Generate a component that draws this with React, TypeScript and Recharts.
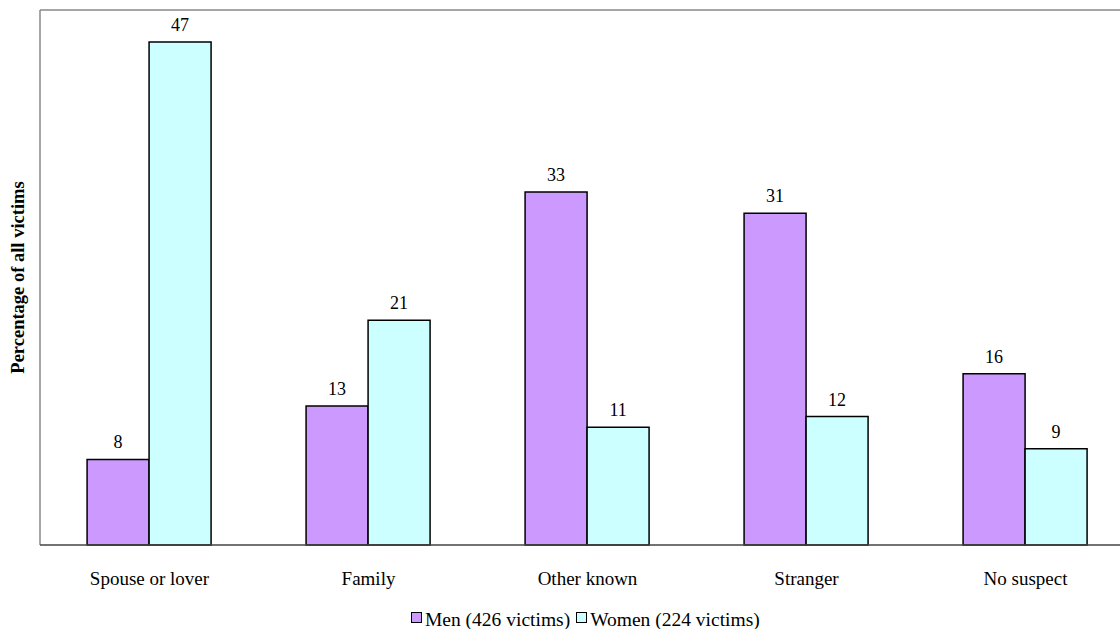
import { Bar, BarChart, LabelList, ReferenceLine, XAxis, YAxis } from "recharts";

const categories = ["Spouse or lover", "Family", "Other known", "Stranger", "No suspect"];
const men = [8, 13, 33, 31, 16];
const women = [47, 21, 11, 12, 9];

const MEN_NAME = "Men (426 victims)";
const WOMEN_NAME = "Women (224 victims)";

const data = categories.map((name, i) => ({ name, men: men[i], women: women[i] }));

const FONT = "'Liberation Serif', 'Times New Roman', serif";
const MEN_COLOR = "#CC99FF";
const WOMEN_COLOR = "#CCFFFF";

function LegendBox({ color, label }: { color: string; label: string }) {
  return (
    <span style={{ display: "inline-flex", alignItems: "center", marginRight: 6 }}>
      <span
        style={{
          display: "inline-block",
          width: 9,
          height: 9,
          background: color,
          border: "1.5px solid #000",
          marginRight: 3,
          marginTop: -5,
        }}
      />
      <span>{label}</span>
    </span>
  );
}

export default function App() {
  // the plot runs past the right edge of the picture, so the svg is wider and clipped
  return (
    <div style={{ position: "relative", width: 1120, height: 629, overflow: "hidden", fontFamily: FONT }}>
      <style>{"body{margin:0}"}</style>
      <BarChart
        width={1135}
        height={629}
        data={data}
        margin={{ top: 10, right: 0, left: 0, bottom: 54 }}
        barCategoryGap="21.5%"
        barGap={0}
      >
        <YAxis
          width={40}
          domain={[0, 50]}
          tick={false}
          tickLine={false}
          axisLine={{ stroke: "#888", strokeWidth: 1.5 }}
          label={{
            value: "Percentage of all victims",
            angle: -90,
            position: "insideLeft",
            dx: 12,
            style: { fontFamily: FONT, fontSize: 18.5, fontWeight: "bold", fill: "#000", textAnchor: "middle" },
          }}
        />
        <XAxis
          dataKey="name"
          tickLine={false}
          axisLine={{ stroke: "#444", strokeWidth: 1.5 }}
          tickMargin={21}
          tick={{ fill: "#000", fontSize: 19, fontFamily: FONT }}
        />
        <ReferenceLine y={50} stroke="#888" strokeWidth={1.5} />
        <Bar dataKey="men" name={MEN_NAME} fill={MEN_COLOR} stroke="#000" strokeWidth={1.5} isAnimationActive={false}>
          <LabelList dataKey="men" position="top" offset={11} style={{ fill: "#000", fontSize: 18, fontFamily: FONT }} />
        </Bar>
        <Bar dataKey="women" name={WOMEN_NAME} fill={WOMEN_COLOR} stroke="#000" strokeWidth={1.5} isAnimationActive={false}>
          <LabelList dataKey="women" position="top" offset={11} style={{ fill: "#000", fontSize: 18, fontFamily: FONT }} />
        </Bar>
      </BarChart>
      <div
        style={{
          position: "absolute",
          top: 606,
          left: 411,
          whiteSpace: "nowrap",
          fontSize: 19.5,
          color: "#000",
        }}
      >
        <LegendBox color={MEN_COLOR} label={MEN_NAME} />
        <LegendBox color={WOMEN_COLOR} label={WOMEN_NAME} />
      </div>
    </div>
  );
}
